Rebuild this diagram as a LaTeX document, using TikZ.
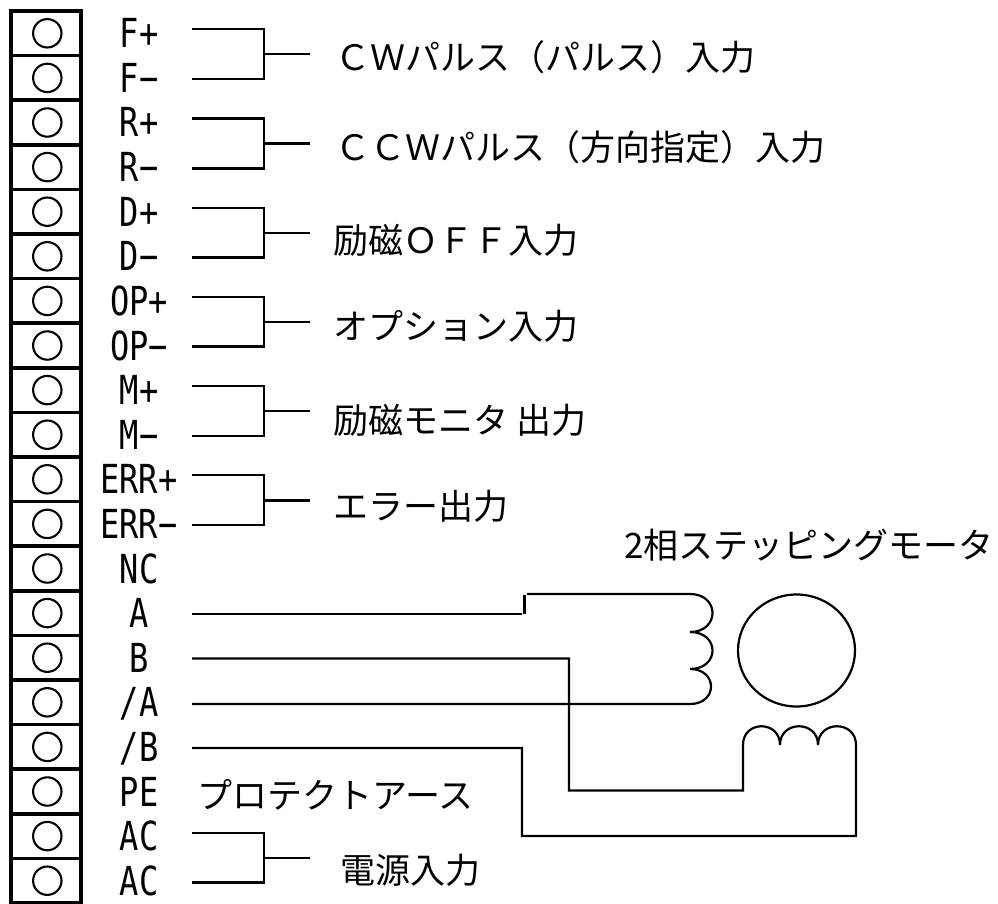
\documentclass[tikz,border=0pt]{standalone}
\usepackage{fontspec}
\setmainfont{Noto Sans CJK JP}
\newfontfamily\pinfont[FakeStretch=0.8]{DejaVu Sans Mono}
\tikzstyle{termbox}=[rectangle,draw,line width=3.6pt,minimum width=70pt,minimum height=44.6pt,inner sep=0pt,
path picture={\draw[line width=2.1pt] ([xshift=1.3pt]path picture bounding box.center) circle (14.2pt);}]
\tikzstyle{pinlabel}=[node distance=93pt,font=\pinfont\fontsize{40}{40}\selectfont,inner sep=0pt,text height=29pt,text depth=0pt]
\tikzstyle{jplabel}=[anchor=base west,font=\fontsize{35}{35}\selectfont,inner sep=0pt]
\tikzstyle{wire}=[line width=2.2pt]

\begin{document}
\begin{tikzpicture}[x=1pt,y=-1pt,node distance=44.6pt]
            \useasboundingbox (0,0) rectangle (998,904);

            % TERMINALS

            \node[termbox] at (46,33.3) (t1) {};
            \node[termbox,below of=t1] (t2) {};
            \node[termbox,below of=t2] (t3) {};
            \node[termbox,below of=t3] (t4) {};
            \node[termbox,below of=t4] (t5) {};
            \node[termbox,below of=t5] (t6) {};
            \node[termbox,below of=t6] (t7) {};
            \node[termbox,below of=t7] (t8) {};
            \node[termbox,below of=t8] (t9) {};
            \node[termbox,below of=t9] (t10) {};
            \node[termbox,below of=t10] (t11) {};
            \node[termbox,below of=t11] (t12) {};
            \node[termbox,below of=t12] (t13) {};
            \node[termbox,below of=t13] (t14) {};
            \node[termbox,below of=t14] (t15) {};
            \node[termbox,below of=t15] (t16) {};
            \node[termbox,below of=t16] (t17) {};
            \node[termbox,below of=t17] (t18) {};
            \node[termbox,below of=t18] (t19) {};
            \node[termbox,below of=t19] (t20) {};

            % PIN NAMES

            \node[pinlabel,right of=t1] (n1) {F+};
            \node[pinlabel,right of=t2] (n2) {F−};
            \node[pinlabel,right of=t3] (n3) {R+};
            \node[pinlabel,right of=t4] (n4) {R−};
            \node[pinlabel,right of=t5] (n5) {D+};
            \node[pinlabel,right of=t6] (n6) {D−};
            \node[pinlabel,right of=t7] (n7) {OP+};
            \node[pinlabel,right of=t8] (n8) {OP−};
            \node[pinlabel,right of=t9] (n9) {M+};
            \node[pinlabel,right of=t10] (n10) {M−};
            \node[pinlabel,right of=t11] (n11) {ERR+};
            \node[pinlabel,right of=t12] (n12) {ERR−};
            \node[pinlabel,right of=t13] (n13) {NC};
            \node[pinlabel,right of=t14] (n14) {A};
            \node[pinlabel,right of=t15] (n15) {B};
            \node[pinlabel,right of=t16] (n16) {/A};
            \node[pinlabel,right of=t17] (n17) {/B};
            \node[pinlabel,right of=t18] (n18) {PE};
            \node[pinlabel,right of=t19] (n19) {AC};
            \node[pinlabel,right of=t20] (n20) {AC};

            % BRACKETS

            \coordinate (a1) at (192,29.3);
            \coordinate (b1) at (192,79);
            \coordinate (j1) at (264,54);
            \coordinate (s1) at (310,54);
            \coordinate (a2) at (192,118.5);
            \coordinate (b2) at (192,168.5);
            \coordinate (j2) at (264,143.5);
            \coordinate (s2) at (310,143.5);
            \coordinate (a3) at (192,207.7);
            \coordinate (b3) at (192,257.5);
            \coordinate (j3) at (264,232.7);
            \coordinate (s3) at (310,232.7);
            \coordinate (a4) at (192,297);
            \coordinate (b4) at (192,346.5);
            \coordinate (j4) at (264,322);
            \coordinate (s4) at (310,322);
            \coordinate (a5) at (192,386);
            \coordinate (b5) at (192,436);
            \coordinate (j5) at (264,411);
            \coordinate (s5) at (310,411);
            \coordinate (a6) at (192,475);
            \coordinate (b6) at (192,525);
            \coordinate (j6) at (264,500.5);
            \coordinate (s6) at (310,500.5);
            \coordinate (a7) at (192,833);
            \coordinate (b7) at (192,882.5);
            \coordinate (j7) at (264,857.7);
            \coordinate (s7) at (310,857.7);

            \draw[wire] (a1) -| (j1) |- (b1) (j1) -- (s1);
            \draw[wire] (a2) -| (j2) |- (b2) (j2) -- (s2);
            \draw[wire] (a3) -| (j3) |- (b3) (j3) -- (s3);
            \draw[wire] (a4) -| (j4) |- (b4) (j4) -- (s4);
            \draw[wire] (a5) -| (j5) |- (b5) (j5) -- (s5);
            \draw[wire] (a6) -| (j6) |- (b6) (j6) -- (s6);
            \draw[wire] (a7) -| (j7) |- (b7) (j7) -- (s7);

            % FUNCTION TEXTS

            \node[jplabel] at (335,71) (f1) {ＣＷパルス（パルス）入力};
            \node[jplabel] at (335,161) (f2) {ＣＣＷパルス（方向指定）入力};
            \node[jplabel] at (333,253) (f3) {励磁ＯＦＦ入力};
            \node[jplabel] at (333,339) (f4) {オプション入力};
            \node[jplabel] at (333,433) (f5) {励磁モニタ 出力};
            \node[jplabel] at (333,519) (f6) {エラー出力};
            \node[jplabel] at (624,558) (f7) {2相ステッピングモータ};
            \node[jplabel] at (197,808) (f8) {プロテクトアース};
            \node[jplabel] at (340,883) (f9) {電源入力};

            % MOTOR

            \coordinate (pa) at (192,614);
            \coordinate (pb) at (192,658.5);
            \coordinate (pc) at (192,704);
            \coordinate (pd) at (192,748);
            \coordinate (q1) at (522,614);
            \coordinate (q2) at (524.5,595);
            \coordinate (q3) at (524.5,614);
            \coordinate (q4) at (527,594);
            \coordinate (c1) at (690,594);
            \coordinate (c2) at (690,632);
            \coordinate (c3) at (690,669);
            \coordinate (c4) at (690,704);
            \coordinate (e1) at (569,790.5);
            \coordinate (e2) at (522,836);
            \coordinate (d1) at (743,745);
            \coordinate (d2) at (780,745);
            \coordinate (d3) at (818,745);
            \coordinate (d4) at (856,745);
            \coordinate (rotor) at (796.5,650.5);

            \draw[wire] (pa) -- (q1);
            \draw[wire] (q2) -- (q3);
            \draw[wire] (q4) -- (c1)
                .. controls (720,594) and (720,632) .. (c2)
                .. controls (720,632) and (720,669) .. (c3)
                .. controls (718,669) and (718,704) .. (c4) -- (pc);
            \draw[wire] (pb) -| (e1) -| (d1)
                .. controls (743,720) and (780,720) .. (d2)
                .. controls (780,720) and (818,720) .. (d3)
                .. controls (818,720) and (856,720) .. (d4) |- (e2) |- (pd);
            \draw[wire] (rotor) ellipse (58.5 and 56);
\end{tikzpicture}
\end{document}
